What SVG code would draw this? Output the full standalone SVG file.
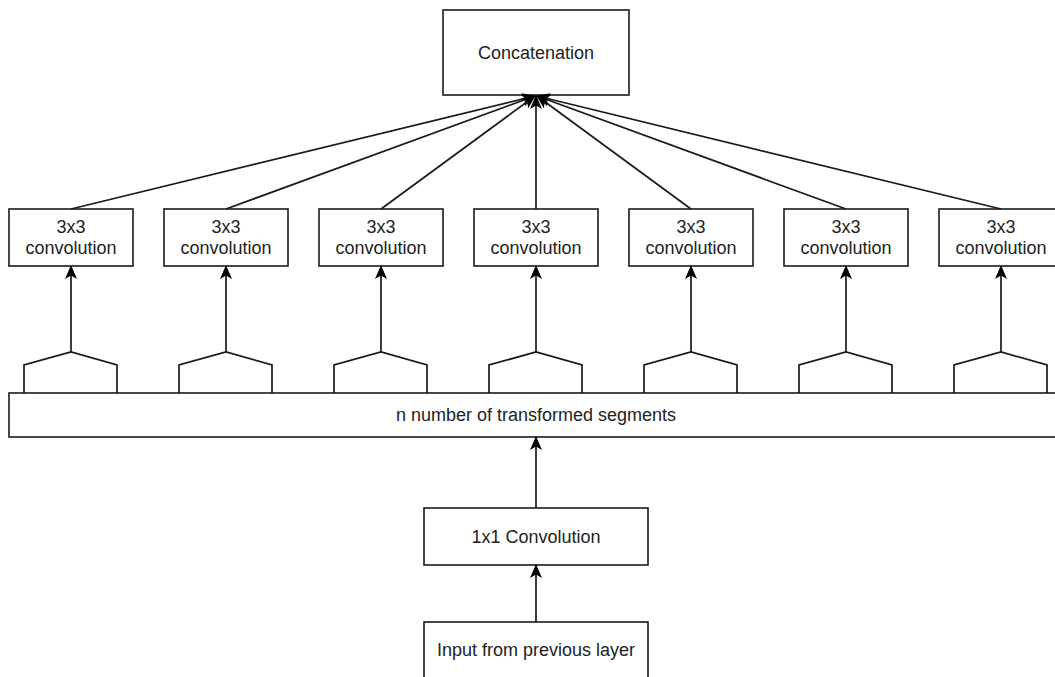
<svg xmlns="http://www.w3.org/2000/svg" width="1055" height="677" viewBox="0 0 1055 677">
<style>
.box{fill:#fff;stroke:#1a1a1a;stroke-width:1.6}
.t{font-family:"Liberation Sans",Arial,sans-serif;font-size:18px;fill:#222;text-anchor:middle}
.e{stroke:#1a1a1a;stroke-width:1.7;fill:none}
.a{marker-end:url(#ah)}
</style>
<defs>
<marker id="ah" viewBox="0 0 14 12" refX="13" refY="6" markerWidth="14" markerHeight="12" markerUnits="userSpaceOnUse" orient="auto">
<path d="M0,0 L14,6 L0,12 L3.5,6 Z" fill="#000"/>
</marker>
</defs>
<rect width="1055" height="677" fill="#fff"/>
<g id="concat"><rect class="box" x="443" y="10" width="186" height="85"/><text class="t" x="536" y="59">Concatenation</text></g>
<g id="conv1"><rect class="box" x="9" y="209" width="124" height="57"/><text class="t" x="71" y="233">3x3</text><text class="t" x="71" y="254">convolution</text></g>
<g id="conv2"><rect class="box" x="164" y="209" width="124" height="57"/><text class="t" x="226" y="233">3x3</text><text class="t" x="226" y="254">convolution</text></g>
<g id="conv3"><rect class="box" x="319" y="209" width="124" height="57"/><text class="t" x="381" y="233">3x3</text><text class="t" x="381" y="254">convolution</text></g>
<g id="conv4"><rect class="box" x="474" y="209" width="124" height="57"/><text class="t" x="536" y="233">3x3</text><text class="t" x="536" y="254">convolution</text></g>
<g id="conv5"><rect class="box" x="629" y="209" width="124" height="57"/><text class="t" x="691" y="233">3x3</text><text class="t" x="691" y="254">convolution</text></g>
<g id="conv6"><rect class="box" x="784" y="209" width="124" height="57"/><text class="t" x="846" y="233">3x3</text><text class="t" x="846" y="254">convolution</text></g>
<g id="conv7"><rect class="box" x="939" y="209" width="124" height="57"/><text class="t" x="1001" y="233">3x3</text><text class="t" x="1001" y="254">convolution</text></g>
<g id="segments">
<path class="e" d="M24,393 V365 L71,352 L117,365 V393"/>
<path class="e" d="M179,393 V365 L226,352 L272,365 V393"/>
<path class="e" d="M334,393 V365 L381,352 L427,365 V393"/>
<path class="e" d="M489,393 V365 L536,352 L582,365 V393"/>
<path class="e" d="M644,393 V365 L691,352 L737,365 V393"/>
<path class="e" d="M799,393 V365 L846,352 L892,365 V393"/>
<path class="e" d="M954,393 V365 L1001,352 L1047,365 V393"/>
<rect class="box" x="9" y="393" width="1060" height="44"/>
<text class="t" x="536" y="421">n number of transformed segments</text>
</g>
<g id="conv1x1"><rect class="box" x="424" y="508" width="224" height="57"/><text class="t" x="536" y="543">1x1 Convolution</text></g>
<g id="input"><rect class="box" x="424" y="622" width="224" height="70"/><text class="t" x="536" y="656">Input from previous layer</text></g>
<g id="connectors">
<line class="e a" x1="71" y1="209" x2="535" y2="96"/>
<line class="e a" x1="226" y1="209" x2="535" y2="96"/>
<line class="e a" x1="381" y1="209" x2="535" y2="96"/>
<line class="e a" x1="536" y1="209" x2="536" y2="96"/>
<line class="e a" x1="691" y1="209" x2="537" y2="96"/>
<line class="e a" x1="846" y1="209" x2="537" y2="96"/>
<line class="e a" x1="1001" y1="209" x2="537" y2="96"/>
<line class="e a" x1="71" y1="352" x2="71" y2="266"/>
<line class="e a" x1="226" y1="352" x2="226" y2="266"/>
<line class="e a" x1="381" y1="352" x2="381" y2="266"/>
<line class="e a" x1="536" y1="352" x2="536" y2="266"/>
<line class="e a" x1="691" y1="352" x2="691" y2="266"/>
<line class="e a" x1="846" y1="352" x2="846" y2="266"/>
<line class="e a" x1="1001" y1="352" x2="1001" y2="266"/>
<line class="e a" x1="536" y1="508" x2="536" y2="437"/>
<line class="e a" x1="536" y1="622" x2="536" y2="565"/>
</g>
</svg>
